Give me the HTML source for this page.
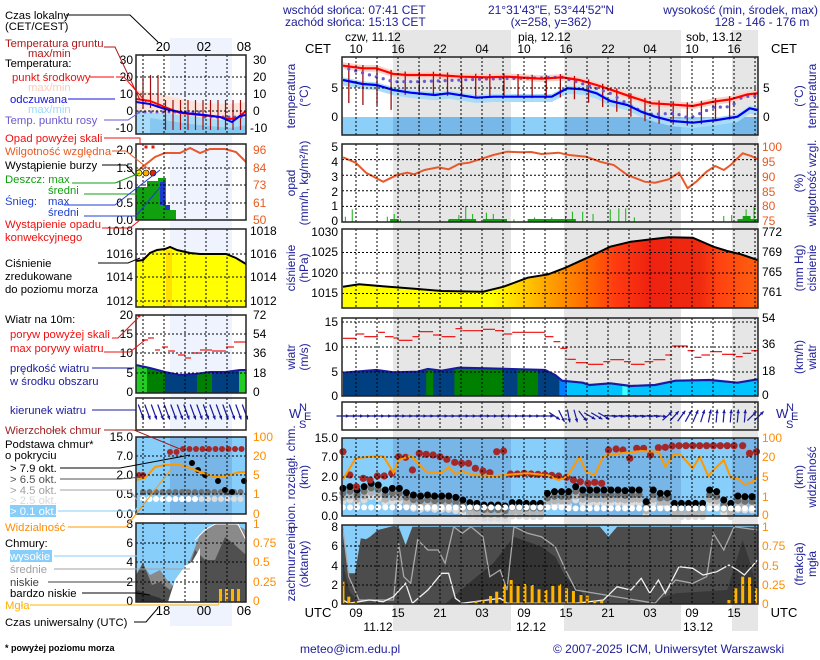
<!DOCTYPE html>
<html><head><meta charset="utf-8"><style>
html,body{margin:0;padding:0;background:#fff}
svg{display:block}
text{font-family:"Liberation Sans",sans-serif;font-size:12px}
.lg text{font-size:11.3px}
.n{fill:#20209a}.r{fill:#ee1111}.o{fill:#e85a20}.k{fill:#000}
.ra{text-anchor:end}.ca{text-anchor:middle}
</style></head><body>
<svg id="s" width="820" height="660" viewBox="0 0 820 660" xmlns="http://www.w3.org/2000/svg">
<g id="bg"></g>
<g id="g"></g>
<!-- header -->
<text x="283" y="14" class="n">wschód słońca: 07:41 CET</text>
<text x="285" y="26" class="n">zachód słońca: 15:13 CET</text>
<text x="551" y="14" class="n ca">21°31'43"E, 53°44'52"N</text>
<text x="551" y="26" class="n ca">(x=258,  y=362)</text>
<text x="818" y="14" class="n ra">wysokość (min, środek, max)</text>
<text x="762" y="26" class="n ca">128 - 146 - 176 m</text>
<text x="345" y="41" class="k">czw, 11.12</text>
<text x="518" y="41" class="k">pią, 12.12</text>
<text x="686" y="41" class="k">sob, 13.12</text>
<text x="318" y="53" class="k ca" style="font-size:13px">CET</text>
<text x="784" y="53" class="k ca" style="font-size:13px">CET</text>
<g class="k ca" style="font-size:13px">
<text x="356" y="53">10</text><text x="398" y="53">16</text><text x="440" y="53">22</text><text x="482" y="53">04</text><text x="524" y="53">10</text><text x="566" y="53">16</text><text x="608" y="53">22</text><text x="650" y="53">04</text><text x="692" y="53">10</text><text x="734" y="53">16</text>
</g>
<!-- bottom axis -->
<text x="318" y="617" class="k ca" style="font-size:13px">UTC</text>
<text x="784" y="617" class="k ca" style="font-size:13px">UTC</text>
<g class="k ca" style="font-size:13px">
<text x="356" y="617">09</text><text x="398" y="617">15</text><text x="440" y="617">21</text><text x="482" y="617">03</text><text x="524" y="617">09</text><text x="566" y="617">15</text><text x="608" y="617">21</text><text x="650" y="617">03</text><text x="692" y="617">09</text><text x="734" y="617">15</text>
<text x="378" y="631">11.12</text><text x="531" y="631">12.12</text><text x="698" y="631">13.12</text>
</g>
<text x="300" y="653" class="n">meteo@icm.edu.pl</text>
<text x="553" y="653" class="n">© 2007-2025 ICM, Uniwersytet Warszawski</text>

<!-- main axis ticks left -->
<g class="k ra">
<text x="338" y="92">5</text><text x="338" y="121">0</text>
<text x="338" y="151">5</text><text x="338" y="166">4</text><text x="338" y="181">3</text><text x="338" y="196">2</text><text x="338" y="210">1</text><text x="338" y="225">0</text>
<text x="338" y="236">1030</text><text x="338" y="256">1025</text><text x="338" y="277">1020</text><text x="338" y="297">1015</text>
<text x="338" y="326">15</text><text x="338" y="351">10</text><text x="338" y="376">5</text><text x="338" y="400">0</text>
<text x="338" y="442">15.0</text><text x="338" y="461">7.0</text><text x="338" y="481">2.0</text><text x="338" y="501">0.5</text><text x="338" y="520">0.0</text>
<text x="338" y="531">8</text><text x="338" y="550">6</text><text x="338" y="570">4</text><text x="338" y="589">2</text><text x="338" y="608">0</text>
</g>
<g>
<text x="763" y="92" class="k">5</text><text x="763" y="121" class="k">0</text>
<text x="762" y="151" class="o">100</text><text x="762" y="166" class="o">95</text><text x="762" y="181" class="o">90</text><text x="762" y="196" class="o">85</text><text x="762" y="210" class="o">80</text><text x="762" y="225" class="o">75</text>
<text x="762" y="236" class="k">772</text><text x="762" y="256" class="k">769</text><text x="762" y="276" class="k">765</text><text x="762" y="296" class="k">761</text>
<text x="762" y="322" class="k">54</text><text x="762" y="348" class="k">36</text><text x="762" y="375" class="k">18</text><text x="762" y="399" class="k">0</text>
<text x="762" y="442" style="fill:#ff8c00">100</text><text x="762" y="461" style="fill:#ff8c00">20</text><text x="762" y="481" style="fill:#ff8c00">5</text><text x="762" y="501" style="fill:#ff8c00">1</text><text x="762" y="519" style="fill:#ff8c00">0</text>
<text x="762" y="531" style="fill:#ff8c00">1</text><text x="762" y="550" style="fill:#ff8c00">0.75</text><text x="762" y="570" style="fill:#ff8c00">0.5</text><text x="762" y="589" style="fill:#ff8c00">0.25</text><text x="762" y="608" style="fill:#ff8c00">0</text>
</g>
<!-- rotated titles -->
<g class="n ca" style="font-size:13px">
<text transform="translate(295,96) rotate(-90)">temperatura</text><text transform="translate(308,96) rotate(-90)">(°C)</text>
<text transform="translate(295,183) rotate(-90)">opad</text><text transform="translate(308,183) rotate(-90)">(mm/h, kg/m²/h)</text>
<text transform="translate(295,268) rotate(-90)">ciśnienie</text><text transform="translate(308,268) rotate(-90)">(hPa)</text>
<text transform="translate(295,357) rotate(-90)">wiatr</text><text transform="translate(308,357) rotate(-90)">(m/s)</text>
<text transform="translate(295,477) rotate(-90)">pion. rozciągł. chm.</text><text transform="translate(308,477) rotate(-90)">(km)</text>
<text transform="translate(295,564) rotate(-90)">zachmurzenie</text><text transform="translate(308,564) rotate(-90)">(oktanty)</text>
<text transform="translate(803,96) rotate(-90)">(°C)</text><text transform="translate(816,96) rotate(-90)">temperatura</text>
<text transform="translate(803,183) rotate(-90)">(%)</text><text transform="translate(816,183) rotate(-90)">wilgotność wzgl.</text>
<text transform="translate(803,268) rotate(-90)">(mm Hg)</text><text transform="translate(816,268) rotate(-90)">ciśnienie</text>
<text transform="translate(803,357) rotate(-90)">(km/h)</text><text transform="translate(816,357) rotate(-90)">wiatr</text>
<text transform="translate(803,477) rotate(-90)">(km)</text><text transform="translate(816,477) rotate(-90)">widzialność</text>
<text transform="translate(803,564) rotate(-90)">(frakcja)</text><text transform="translate(816,564) rotate(-90)">mgła</text>
</g>
<g class="n">
<text x="289" y="418" style="font-size:13px">W</text><text x="299" y="411" style="font-size:11px">N</text><text x="304" y="420" style="font-size:11px">E</text><text x="299" y="428" style="font-size:11px">S</text>
<text x="776" y="418" style="font-size:13px">W</text><text x="786" y="411" style="font-size:11px">N</text><text x="791" y="420" style="font-size:11px">E</text><text x="786" y="428" style="font-size:11px">S</text>
</g>

<!-- left mini labels -->
<g class="k ca">
<text x="163" y="51" style="font-size:13px">20</text><text x="204" y="51" style="font-size:13px">02</text><text x="244" y="51" style="font-size:13px">08</text>
<text x="163" y="615" style="font-size:13px">18</text><text x="204" y="615" style="font-size:13px">00</text><text x="244" y="615" style="font-size:13px">06</text>
</g>
<g class="k ra">
<text x="133" y="64">30</text><text x="133" y="81">20</text><text x="133" y="98">10</text><text x="133" y="115">0</text><text x="133" y="132">-10</text>
<text x="133" y="154">2.0</text><text x="133" y="172">1.5</text><text x="133" y="189">1.0</text><text x="133" y="207">0.5</text><text x="133" y="224">0.0</text>
<text x="133" y="235">1018</text><text x="133" y="258">1016</text><text x="133" y="281">1014</text><text x="133" y="305">1012</text>
<text x="133" y="319">20</text><text x="133" y="338">15</text><text x="133" y="357">10</text><text x="133" y="377">5</text><text x="133" y="396">0</text>
<text x="133" y="441">15.0</text><text x="133" y="460">7.0</text><text x="133" y="479">2.0</text><text x="133" y="498">0.5</text><text x="133" y="518">0.0</text>
<text x="133" y="528">8</text><text x="133" y="547">6</text><text x="133" y="566">4</text><text x="133" y="586">2</text><text x="133" y="605">0</text>
</g>
<g>
<text x="253" y="64" class="k">30</text><text x="253" y="81" class="k">20</text><text x="253" y="98" class="k">10</text><text x="253" y="115" class="k">0</text><text x="250" y="132" class="k">-10</text>
<text x="253" y="154" class="o">96</text><text x="253" y="172" class="o">84</text><text x="253" y="189" class="o">73</text><text x="253" y="207" class="o">61</text><text x="253" y="224" class="o">50</text>
<text x="250" y="235" class="k">1018</text><text x="250" y="258" class="k">1016</text><text x="250" y="281" class="k">1014</text><text x="250" y="305" class="k">1012</text>
<text x="253" y="319" class="k">72</text><text x="253" y="338" class="k">54</text><text x="253" y="357" class="k">36</text><text x="253" y="377" class="k">18</text><text x="253" y="396" class="k">0</text>
<text x="253" y="441" style="fill:#ff8c00">100</text><text x="253" y="460" style="fill:#ff8c00">20</text><text x="253" y="479" style="fill:#ff8c00">5</text><text x="253" y="498" style="fill:#ff8c00">1</text><text x="253" y="518" style="fill:#ff8c00">0</text>
<text x="253" y="528" style="fill:#ff8c00">1</text><text x="253" y="547" style="fill:#ff8c00">0.75</text><text x="253" y="566" style="fill:#ff8c00">0.5</text><text x="253" y="586" style="fill:#ff8c00">0.25</text><text x="253" y="605" style="fill:#ff8c00">0</text>
</g>
<!-- legend texts -->
<g class="lg">
<text x="5" y="19" class="k">Czas lokalny</text>
<text x="5" y="30" class="k">(CET/CEST)</text>
<text x="5" y="47" style="fill:#b01818">Temperatura gruntu</text>
<text x="28" y="57" style="fill:#b01818">max/min</text>
<text x="5" y="67" class="k">Temperatura:</text>
<text x="12" y="81" class="r">punkt środkowy</text>
<text x="28" y="91" style="fill:#f7cdbd">max/min</text>
<text x="10" y="103" style="fill:#1010e0">odczuwana</text>
<text x="28" y="113" style="fill:#9fd8f8">max/min</text>
<text x="5" y="124" style="fill:#6a5acd">Temp. punktu rosy</text>
<text x="5" y="142" class="r">Opad powyżej skali</text>
<text x="5" y="155" class="o">Wilgotność względna</text>
<text x="5" y="169" class="k">Wystąpienie burzy</text>
<text x="5" y="183" style="fill:#10a010">Deszcz: max</text>
<text x="48" y="194" style="fill:#10a010">średni</text>
<text x="5" y="205" style="fill:#2040d0">Śnieg:</text>
<text x="48" y="205" style="fill:#2040d0">max</text>
<text x="48" y="216" style="fill:#2040d0">średni</text>
<text x="5" y="228" class="r">Wystąpienie opadu</text>
<text x="5" y="241" class="r">konwekcyjnego</text>
<text x="5" y="267" class="k">Ciśnienie</text>
<text x="5" y="280" class="k">zredukowane</text>
<text x="5" y="293" class="k">do poziomu morza</text>
<text x="5" y="323" class="k">Wiatr na 10m:</text>
<text x="10" y="338" class="r">poryw powyżej skali</text>
<text x="10" y="352" class="r">max porywy wiatru</text>
<text x="10" y="372" class="n">prędkość wiatru</text>
<text x="10" y="385" class="n">w środku obszaru</text>
<text x="10" y="414" class="n">kierunek wiatru</text>
<text x="5" y="434" style="fill:#a02020">Wierzchołek chmur</text>
<text x="5" y="448" class="k">Podstawa chmur*</text>
<text x="5" y="459" class="k">o pokryciu</text>
<text x="10" y="472" class="k">&gt; 7.9 okt.</text>
<text x="10" y="483" style="fill:#505050">&gt; 6.5 okt.</text>
<text x="10" y="494" style="fill:#a0a0a0">&gt; 4.5 okt.</text>
<text x="10" y="504" style="fill:#d8d8d8">&gt; 2.5 okt.</text>
<rect x="10" y="505" width="46" height="12" fill="#87cefa"/>
<text x="10" y="515" style="fill:#fff">&gt; 0.1 okt.</text>
<text x="5" y="531" style="fill:#ff8c00">Widzialność</text>
<text x="5" y="547" class="k">Chmury:</text>
<rect x="10" y="550" width="42" height="12" fill="#87cefa"/>
<text x="10" y="560" style="fill:#fff">wysokie</text>
<text x="10" y="573" style="fill:#a0a0a0">średnie</text>
<text x="10" y="586" style="fill:#404040">niskie</text>
<text x="10" y="597" class="k">bardzo niskie</text>
<text x="5" y="609" style="fill:#ffb000">Mgła</text>
<text x="5" y="626" class="k">Czas uniwersalny (UTC)</text>
<text x="5" y="651" class="k" style="font-size:9px;font-weight:bold">* powyżej poziomu morza</text>
</g>
<g id="lines" fill="none" stroke-width="1"></g>
</svg>
<script>
var NS="http://www.w3.org/2000/svg";
function el(p,t,a){var e=document.createElementNS(NS,t);for(var k in a)e.setAttribute(k,a[k]);document.getElementById(p).appendChild(e);return e;}
function X(z){return 280+z*0.344;}
function pts(a,off){return a.map(function(p){return X(p[0]).toFixed(1)+","+(off+p[1]/3).toFixed(1);}).join(" ");}
function rawpts(a){return a.map(function(p){return p[0]+","+p[1];}).join(" ");}
var L=342,R=758;
el("bg","rect",{x:170,y:38,width:62,height:588,fill:"#eef3fd"});
[[393,511],[564,681],[732,758]].forEach(function(b){el("bg","rect",{x:b[0],y:30,width:b[1]-b[0],height:601,fill:"#e6e6e6"});});
// temp
el("g","rect",{x:L,y:117,width:R-L,height:18,fill:"#8ccff8"});
[[393,511],[564,681],[732,758]].forEach(function(b){el("g","rect",{x:b[0],y:117,width:b[1]-b[0],height:18,fill:"#78b8e8"});});
var red=[[183,197],[240,205],[280,205],[330,222],[370,225],[450,225],[530,230],[600,232],[660,230],[760,236],[820,232],[870,240],[920,255],[970,272],[1020,290],[1080,310],[1130,313],[1200,318],[1260,305],[1310,298],[1360,283],[1388,280]];
var blu=[[183,240],[240,252],[280,255],[330,270],[380,278],[450,285],[490,280],[570,293],[620,290],[700,290],[790,290],[835,265],[880,268],[920,280],[960,303],[1010,315],[1050,335],[1090,350],[1140,363],[1200,368],[1270,360],[1330,350],[1365,325],[1388,330]];
function band(a,off,d1,d2,col){var up=a.map(function(p){return [p[0],p[1]+d1];}),dn=a.map(function(p){return [p[0],p[1]+d2];}).reverse();el("g","polygon",{points:pts(up.concat(dn),off),fill:col});}
band(red,0,-10,10,"#f9d3c8");band(blu,0,-8,16,"#a8dcf8");
for(var i=0;i<28;i++){var zx=200+i*41;if(zx>1380)break;var yy=0;for(var j=0;j<red.length-1;j++){if(zx>=red[j][0]&&zx<=red[j+1][0]){yy=red[j][1]+(red[j+1][1]-red[j][1])*(zx-red[j][0])/(red[j+1][0]-red[j][0]);}}el("g","line",{x1:X(zx),x2:X(zx),y1:(yy-10)/3,y2:(yy+(i<4?110:60))/3,stroke:"#a01010","stroke-width":1.3});}
var dew=[[200,207],[330,245],[400,245],[600,237],[820,232],[900,258],[960,280],[1020,318],[1070,343],[1150,340],[1190,355],[1260,322],[1310,320],[1345,290],[1388,288]];
for(var zx=200;zx<1388;zx+=20){var yy=0;for(var j=0;j<dew.length-1;j++){if(zx>=dew[j][0]&&zx<=dew[j+1][0]){yy=dew[j][1]+(dew[j+1][1]-dew[j][1])*(zx-dew[j][0])/(dew[j+1][0]-dew[j][0]);}}el("g","circle",{cx:X(zx),cy:yy/3,r:1.6,fill:"#6a5acd"});}
el("g","polyline",{points:pts(red,0),fill:"none",stroke:"#ff0000","stroke-width":2.2});
el("g","polyline",{points:pts(blu,0),fill:"none",stroke:"#0000ee","stroke-width":2.2});
// precip
var rh=[[183,52],[220,68],[250,98],[300,125],[340,105],[370,98],[390,103],[420,90],[460,82],[490,88],[520,72],[550,68],[590,55],[620,45],[660,35],[700,37],[730,36],[760,42],[810,38],[840,45],[890,50],[930,65],[970,75],[1010,105],[1060,125],[1090,128],[1130,118],[1160,98],[1185,145],[1210,125],[1240,95],[1265,78],[1290,90],[1310,75],[1345,40],[1370,48],[1388,58]];
[[190,230],[210,208],[312,230],[332,222],[350,238],[490,240],[520,225],[540,198],[560,222],[600,218],[620,222],[680,238],[740,232],[790,232],[830,228],[850,215],[880,215],[910,222],[960,208],[985,205],[1005,205],[1030,232],[1290,228],[1313,225],[1355,208],[1378,200]].forEach(function(b){el("g","line",{x1:X(b[0]),x2:X(b[0]),y1:140+b[1]/3,y2:222,stroke:"#10b010","stroke-width":1});});
[[320,345],[490,570],[590,660],[720,860],[1330,1388]].forEach(function(b){el("g","rect",{x:X(b[0]),y:219,width:X(b[1])-X(b[0]),height:3,fill:"#10a010"});});
el("g","rect",{x:X(1345),y:216,width:X(1368)-X(1345),height:6,fill:"#10a010"});
el("g","polyline",{points:pts(rh,140),fill:"none",stroke:"#e8582a","stroke-width":2});
// pressure
var pr=[[183,440],[230,433],[290,438],[400,447],[470,453],[590,455],[650,440],[720,413],[780,403],[830,383],[900,350],[960,320],[1020,305],[1080,298],[1130,292],[1200,293],[1260,320],[1300,333],[1340,343],[1388,360]];
var gd=el("g","linearGradient",{id:"pg",gradientUnits:"userSpaceOnUse",x1:L,x2:R,y1:0,y2:0});
[[0,"#ffff00"],[0.36,"#ffff00"],[0.42,"#ffd700"],[0.5,"#ffa000"],[0.58,"#ff7000"],[0.66,"#ff3a10"],[0.74,"#ee2210"],[0.86,"#ee2a10"],[0.9,"#ff4010"],[1,"#ff6010"]].forEach(function(s){var st=document.createElementNS(NS,"stop");st.setAttribute("offset",s[0]);st.setAttribute("stop-color",s[1]);gd.appendChild(st);});
el("g","polygon",{points:pts(pr,140)+" "+R+",308 "+L+",308",fill:"url(#pg)"});
el("g","polyline",{points:pts(pr,140),fill:"none",stroke:"#000","stroke-width":2});
// wind
var ws=[[183,698],[280,690],[330,697],[400,695],[430,687],[470,692],[520,683],[600,685],[700,688],[770,690],[800,705],[820,722],[880,728],[900,735],[960,730],[1020,738],[1090,735],[1150,722],[1250,720],[1330,728],[1388,718]];
var wclip=el("g","clipPath",{id:"wc"});var cp=document.createElementNS(NS,"polygon");cp.setAttribute("points",pts(ws,140)+" "+R+",396 "+L+",396");wclip.appendChild(cp);
el("g","g",{"clip-path":"url(#wc)",id:"wg"});
[[183,820,"#004080"],[425,445,"#008000"],[507,650,"#008000"],[690,750,"#008000"],[812,835,"#0080ff"],[835,1388,"#00c4ff"],[995,1010,"#40ffff"]].forEach(function(b){el("wg","rect",{x:X(b[0]),y:300,width:X(b[1])-X(b[0]),height:100,fill:b[2]});});
el("g","polyline",{points:pts(ws,140),fill:"none",stroke:"#1a1aa0","stroke-width":2.2});
[[183,220,595],[220,245,582],[245,285,590],[285,305,577],[305,330,590],[330,345,594],[345,385,601],[385,405,590],[405,445,575],[445,470,585],[470,510,590],[510,530,566],[530,590,572],[590,625,568],[625,650,572],[650,675,582],[675,770,577],[770,795,590],[795,815,605],[815,835,625],[835,860,658],[860,895,668],[895,940,673],[940,960,665],[960,1000,659],[1000,1020,665],[1020,1060,673],[1060,1085,665],[1085,1120,659],[1120,1140,645],[1140,1185,618],[1185,1205,632],[1205,1225,652],[1225,1250,645],[1250,1285,635],[1285,1325,643],[1325,1345,650],[1345,1370,640],[1370,1388,632]].forEach(function(d){el("g","line",{x1:X(d[0]),x2:X(d[1]),y1:140+d[2]/3,y2:140+d[2]/3,stroke:"#ee1111","stroke-width":1.2});});
function arrow(cx,cy,ang,len,col){var a=ang*Math.PI/180,dx=Math.cos(a)*len/2,dy=Math.sin(a)*len/2;el("g","line",{x1:cx-dx,y1:cy-dy,x2:cx+dx,y2:cy+dy,stroke:col,"stroke-width":1.2});var hx=cx+dx,hy=cy+dy,h=4;var p1=[hx-h*Math.cos(a-0.45),hy-h*Math.sin(a-0.45)],p2=[hx-h*Math.cos(a+0.45),hy-h*Math.sin(a+0.45)];el("g","polygon",{points:hx+","+hy+" "+p1.join(",")+" "+p2.join(","),fill:col});}
for(var i=0;i<60;i++){var zx=183+i*20.5;var ang;
if(zx<790)ang=0;else if(zx<900)ang=20+60*Math.sin((zx-790)/110*Math.PI);else if(zx<1120)ang=(zx<960?30:5);else ang=-40-45*Math.min(1,(zx-1120)/150);
if(zx>1370)ang=-45;arrow(X(zx),416,ang,13,"#1a1aa0");}
// cloud base
el("g","rect",{x:L,y:438,width:R-L,height:78,fill:"#87cefa"});
[[393,511],[564,681],[732,758]].forEach(function(b){el("g","rect",{x:b[0],y:438,width:b[1]-b[0],height:78,fill:"#78b6e8"});});
var colsB=[295,290,300,290,280,285,300,295,295,308,315,318,315,318,318,318,322,330,338,340,345,345,345,348,338,338,340,340,340,310,305,305,305,290,300,300,300,300,300,300,302,300,300,335,300,310,310,340,340,340,340,340,300,305,330,340,318,320,320,318];
for(var i=0;i<59;i++){var zx=183+i*20.5,by=colsB[i];
el("g","circle",{cx:X(zx),cy:390+(by+40)/3,r:3.5,fill:"#dcdcdc"});
el("g","circle",{cx:X(zx),cy:390+(by+28)/3,r:3.5,fill:"#b4b4b4"});
el("g","circle",{cx:X(zx),cy:390+(by+14)/3,r:3.5,fill:"#707070"});
el("g","circle",{cx:X(zx),cy:390+by/3,r:3.5,fill:"#000"});
el("g","circle",{cx:X(zx),cy:390+(zx<830?352:355)/3,r:3,fill:"#fff"});}
[[183,185],[203,255],[222,290],[242,265],[262,270],[283,258],[303,258],[325,250],[345,200],[365,202],[385,240],[405,190],[425,193],[445,195],[465,200],[485,208],[508,217],[528,220],[548,220],[568,235],[590,243],[610,248],[630,185],[650,183],[670,252],[690,252],[710,250],[730,252],[750,253],[770,254],[790,256],[810,258],[833,262],[853,270],[873,275],[895,280],[915,277],[935,280],[955,180],[977,177],[997,180],[1017,205],[1037,175],[1057,175],[1077,195],[1100,173],[1120,172],[1140,168],[1160,167],[1180,167],[1200,167],[1220,167],[1240,167],[1260,167],[1280,167],[1300,167],[1320,167],[1345,167],[1365,190],[1385,185]].forEach(function(p){el("g","circle",{cx:X(p[0]),cy:390+p[1]/3,r:3.6,fill:"#a52828"});});
var vis=[[183,268],[220,205],[260,200],[300,198],[330,248],[345,210],[380,197],[425,245],[470,248],[490,232],[510,252],[530,243],[560,255],[620,258],[680,253],[720,250],[780,256],[810,270],[835,260],[850,235],[870,200],[890,245],[915,255],[940,198],[990,190],[1050,183],[1100,185],[1120,230],[1145,192],[1165,195],[1200,235],[1220,200],[1245,258],[1260,240],[1290,210],[1310,262],[1330,265],[1350,283],[1370,278],[1388,262]];
el("g","polyline",{points:pts(vis,390),fill:"none",stroke:"#ff9900","stroke-width":2});
// cloud cover
el("g","rect",{x:L,y:525,width:R-L,height:79,fill:"#87cefa"});
var tot=[[183,410],[200,550],[218,550],[235,445],[250,448],[262,440],[285,420],[330,408],[345,410],[365,465],[385,410],[930,410],[955,440],[980,410],[1388,410],[1388,642],[183,642]];
el("g","polygon",{points:pts(tot,390),fill:"#4c4c4c"});
el("g","polygon",{points:pts([[183,520],[200,600],[230,642],[183,642]],390),fill:"#383838"});
el("g","polygon",{points:pts([[480,642],[560,570],[620,520],[680,440],[720,455],[760,470],[800,500],[830,560],[870,600],[910,642]],390),fill:"#333"});
el("g","polygon",{points:pts([[1060,642],[1150,610],[1300,600],[1345,450],[1370,530],[1388,600],[1388,642]],390),fill:"#383838"});
el("g","polyline",{points:pts([[183,420],[200,560],[230,630],[330,630],[345,460],[360,560],[380,580],[400,450],[430,480],[460,480],[480,520],[505,410],[530,430],[555,410],[590,440],[610,560],[640,540],[660,600],[680,410],[720,430],[760,440],[800,470],[830,540],[860,600],[1090,640],[1150,570],[1200,580],[1240,560],[1260,430],[1290,480],[1320,410],[1388,420]],390),fill:"none",stroke:"#a8a8a8","stroke-width":1.3});
el("g","polyline",{points:pts([[183,630],[200,640],[230,635],[260,630],[300,635],[330,620],[365,580],[385,640],[430,600],[470,550],[490,550],[510,625],[530,640],[640,625],[660,640],[860,640],[940,630],[980,590],[1020,600],[1050,565],[1075,610],[1100,570],[1120,610],[1160,530],[1200,535],[1230,555],[1270,545],[1305,525],[1330,540],[1350,555],[1388,510]],390),fill:"none",stroke:"#f0f0f0","stroke-width":1.3});
[[183,575],[200,620],[220,635],[570,633],[590,630],[612,618],[630,605],[652,583],[672,570],[692,588],[712,582],[733,585],[753,598],[773,600],[793,588],[813,583],[833,595],[853,603],[875,615],[893,617],[915,632],[935,632],[1305,630],[1325,595],[1345,560],[1365,562],[1385,595]].forEach(function(b){el("g","rect",{x:X(b[0])-1.5,y:390+b[1]/3,width:3,height:604-(390+b[1]/3),fill:"#ffb400"});});
var hg=[88,159.6,175.2,190.8,206.4,252.5,273,293.5,322,347,372,457,477,497,546,566,585];
var panels=[[57,135],[144,222],[229,308],[318,396],[402,430],[438,516],[525,604]];
panels.forEach(function(p){for(var x=356;x<758;x+=21)el("g","line",{x1:x,x2:x,y1:p[0],y2:p[1],stroke:"#000","stroke-dasharray":"2,2"});});
hg.forEach(function(y){el("g","line",{x1:L,x2:R,y1:y,y2:y,stroke:"#000","stroke-dasharray":"2,2"});});
panels.forEach(function(p){el("g","rect",{x:L,y:p[0],width:R-L,height:p[1]-p[0],fill:"none",stroke:"#222","stroke-width":1.5});});
// MINI
var mL=136,mR=246;
var mr=[[136,99],[150,101],[165,107],[180,113],[200,115],[220,117],[230,119],[237,118],[246,111]];
var mb=[[136,102],[150,104],[165,109],[185,113],[205,115],[220,117],[232,122],[240,116],[246,115]];
el("g","polygon",{points:rawpts([[136,90],[165,95],[200,103],[230,104],[246,102],[246,134],[136,134]]),fill:"#fde3da"});
el("g","polygon",{points:rawpts([[136,112],[160,113],[190,116],[220,120],[246,118],[246,134],[136,134]]),fill:"#a8dcf8"});
el("g","polygon",{points:rawpts([[150,118],[190,124],[230,128],[246,125],[246,134],[150,134]]),fill:"#86c8f0"});
for(var x=143;x<246;x+=7.5)el("g","line",{x1:x,x2:x,y1:x<160?75:100,y2:x<160?108:130,stroke:"#a01010","stroke-width":1.2});
for(var x=139;x<246;x+=6)el("g","circle",{cx:x,cy:112+(x>200?5:0),r:1.5,fill:"#6a5acd"});
el("g","polyline",{points:rawpts(mr),fill:"none",stroke:"#ff0000","stroke-width":2});
el("g","polyline",{points:rawpts(mb),fill:"none",stroke:"#0000ee","stroke-width":2});
el("g","rect",{x:136,y:187,width:11,height:33,fill:"#10a010"});
el("g","rect",{x:147,y:181,width:11,height:39,fill:"#10a010"});
el("g","rect",{x:158,y:178,width:8,height:42,fill:"#10a010"});
el("g","rect",{x:160,y:182,width:5,height:23,fill:"#1a3acc"});
el("g","rect",{x:165,y:205,width:5,height:5,fill:"#1a3acc"});
el("g","rect",{x:165,y:210,width:11,height:10,fill:"#10a010"});
el("g","polyline",{points:rawpts([[136,172],[145,165],[155,157],[165,153],[180,153],[190,148],[200,153],[210,149],[225,149],[236,152],[246,162]]),fill:"none",stroke:"#e8582a","stroke-width":2});
[[139,"#ffee00"],[146,"#ffaa00"],[153,"#ee2200"]].forEach(function(c){el("g","circle",{cx:c[0],cy:173,r:3,fill:c[1],stroke:"#000","stroke-width":0.6});});
el("g","rect",{x:144.5,y:145.5,width:3,height:3,fill:"#ee1111"});el("g","rect",{x:151.5,y:145.5,width:3,height:3,fill:"#ee1111"});
el("g","polygon",{points:rawpts([[136,261],[143,260],[150,253],[157,250],[165,249],[170,247],[177,250],[190,253],[200,254],[226,254],[236,258],[246,264],[246,307],[136,307]]),fill:"#ffff00"});
el("g","rect",{x:166,y:250,width:6,height:57,fill:"#ffe000"});
el("g","polyline",{points:rawpts([[136,261],[143,260],[150,253],[157,250],[165,249],[170,247],[177,250],[190,253],[200,254],[226,254],[236,258],[246,264]]),fill:"none",stroke:"#000","stroke-width":2});
var mws=[[136,365],[150,368],[165,372],[180,375],[195,374],[210,372],[225,372],[240,370],[246,370]];
var mc=el("g","clipPath",{id:"mwc"});var cp2=document.createElementNS(NS,"polygon");cp2.setAttribute("points",rawpts(mws)+" 246,393 136,393");mc.appendChild(cp2);
el("g","g",{"clip-path":"url(#mwc)",id:"mwg"});
[[136,147,"#22cc22"],[147,165,"#008000"],[165,197,"#004080"],[197,212,"#008000"],[212,239,"#004080"],[239,246,"#22cc22"]].forEach(function(b){el("mwg","rect",{x:b[0],y:360,width:b[1]-b[0],height:34,fill:b[2]});});
el("g","polyline",{points:rawpts(mws),fill:"none",stroke:"#1a1aa0","stroke-width":2});
[[142,148,340],[148,154,338],[155,160,350],[162,168,347],[168,175,351],[178,185,355],[185,191,358],[191,200,353],[200,212,350],[212,226,351],[226,234,347],[234,246,342]].forEach(function(d){el("g","line",{x1:d[0],x2:d[1],y1:d[2],y2:d[2],stroke:"#ee1111","stroke-width":1.2});});
el("g","circle",{cx:139,cy:316,r:1.5,fill:"#ee1111"});
for(var x=141;x<248;x+=6.5)arrow(x,412,70,16,"#1a1aa0");
el("g","rect",{x:mL,y:437,width:110,height:77,fill:"#87cefa"});
el("g","rect",{x:170,y:437,width:62,height:77,fill:"#78b6e8"});
for(var x=170;x<246;x+=6.5)el("g","circle",{cx:x,cy:x<180?452:449,r:3,fill:"#a52828"});
[[139,475],[143,475]].forEach(function(p){el("g","circle",{cx:p[0],cy:p[1],r:3,fill:"#a52828"});});
for(var x=143;x<246;x+=6.5){el("g","circle",{cx:x,cy:492,r:3,fill:"#707070"});el("g","circle",{cx:x,cy:499,r:3,fill:x>200?"#ddd":"#fff"});}
[[192,463],[198,470],[205,475],[218,481],[225,490],[232,492],[244,481]].forEach(function(p){el("g","circle",{cx:p[0],cy:p[1],r:3,fill:"#000"});});
el("g","polyline",{points:rawpts([[136,480],[145,478],[155,467],[165,465],[180,465],[190,468],[200,472],[215,477],[225,476],[240,472],[246,472]]),fill:"none",stroke:"#ff9900","stroke-width":2});
el("g","rect",{x:mL,y:523,width:110,height:79,fill:"#87cefa"});
el("g","polygon",{points:rawpts([[136,582],[143,565],[150,575],[160,570],[167,580],[173,586],[180,580],[190,560],[200,535],[210,527],[220,523],[235,524],[246,530],[246,602],[136,602]]),fill:"#8a8a8a"});
el("g","polygon",{points:rawpts([[136,575],[143,563],[152,585],[160,582],[170,590],[180,575],[185,580],[195,550],[205,560],[215,560],[225,537],[235,545],[246,555],[246,602],[136,602]]),fill:"#505050"});
el("g","polygon",{points:rawpts([[136,590],[150,595],[160,598],[165,602],[136,602]]),fill:"#303030"});
el("g","polygon",{points:rawpts([[168,602],[175,580],[185,566],[192,562],[200,548],[200,602]]),fill:"#ffffff"});
el("g","polyline",{points:rawpts([[195,540],[205,530],[215,524],[238,524],[246,540]]),fill:"none",stroke:"#fff","stroke-width":1});
[219,225,231,237].forEach(function(x){el("g","rect",{x:x,y:589,width:3,height:13,fill:"#ffb400"});});
[[55,134],[144,220],[229,307],[315,393],[398,430],[437,514],[523,602]].forEach(function(p){for(var x=143;x<246;x+=21)el("g","line",{x1:x,x2:x,y1:p[0],y2:p[1],stroke:"#000","stroke-dasharray":"2,2"});});
[77,94,111,168,185,203,254,277,301,334,353,373,456,475,494,543,562,582].forEach(function(y){el("g","line",{x1:mL,x2:mR,y1:y,y2:y,stroke:"#000","stroke-dasharray":"2,2"});});
[[55,134],[144,220],[229,307],[315,393],[398,430],[437,514],[523,602]].forEach(function(p){el("g","rect",{x:mL,y:p[0],width:110,height:p[1]-p[0],fill:"none",stroke:"#222","stroke-width":1.5});});
var LL=[
[[66,15],[130,15],[158,42],"#000"],
[[104,47],[115,47],[140,100],"#b01818"],
[[90,77],[114,77],"#ff0000"],[[116,77],[124,77],[146,102],"#ff0000"],
[[68,99],[115,99],"#1010e0"],
[[104,120],[128,120],[140,112],"#6a5acd"],
[[104,138],[140,138],[140,145],"#ee1111"],
[[112,151],[126,151],[150,170],"#e8582a"],
[[102,165],[126,165],[135,175],"#000"],
[[72,183],[115,183],[140,173],"#10a010"],
[[84,194],[138,194],"#10a010"],
[[64,205],[115,205],[160,170],"#2040d0"],
[[84,216],[136,216],[162,185],"#2040d0"],
[[102,228],[130,228],[140,220],"#ee1111"],
[[98,263],[128,263],[140,258],"#000"],
[[112,338],[118,338],[138,318],"#ee1111"],
[[104,352],[130,352],[145,340],"#ee1111"],
[[92,368],[134,368],"#1a1aa0"],
[[92,410],[136,410],"#1a1aa0"],
[[104,430],[134,430],[180,449],"#a02020"],
[[60,468],[120,468],[190,455],"#000"],
[[60,479],[120,479],[142,477],"#505050"],
[[60,490],[130,490],[137,500],"#a0a0a0"],
[[58,511],[135,511],[142,500],"#87cefa"],
[[68,527],[126,527],[172,468],"#ff9900"],
[[54,556],[184,556],"#87cefa"],
[[54,569],[190,569],"#a0a0a0"],
[[48,582],[136,582],"#404040"],
[[82,593],[136,593],[150,595],"#000"],
[[30,605],[218,605],[222,595],"#ffb400"],
[[134,622],[146,622],[158,608],"#000"]
];
LL.forEach(function(l){var c=l.pop();el("lines","polyline",{points:rawpts(l),stroke:c,"stroke-width":1});});
</script>
</body></html>
